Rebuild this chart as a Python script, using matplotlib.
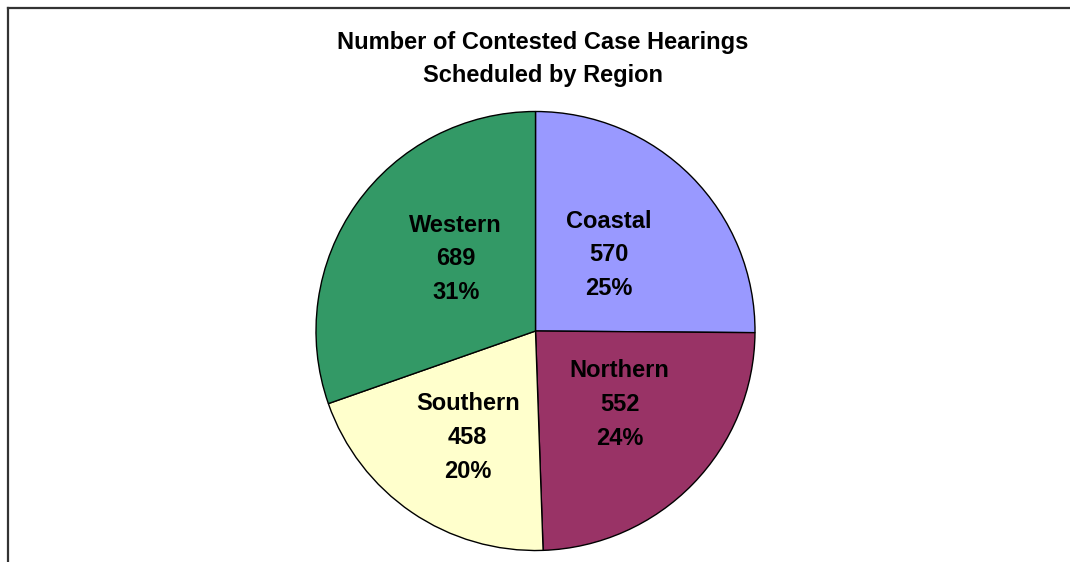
import matplotlib
matplotlib.use("Agg")

import matplotlib.pyplot as plt
import numpy as np
from matplotlib.lines import Line2D

# ============================================================
# Data
# ============================================================

regions = ["Coastal", "Northern", "Southern", "Western"]
hearings = [570, 552, 458, 689]
percents = ["25%", "24%", "20%", "31%"]
colors = ["#9999FF", "#993366", "#FFFFCC", "#339966"]

title_lines = ["Number of Contested Case Hearings", "Scheduled by Region"]

# label placement tweaks (fraction of radius, degrees off the mid angle)
label_dist = [0.482, 0.509, 0.575, 0.490]
label_rot = [1.2, 3.0, 1.9, -6.7]

# ============================================================
# Figure
# ============================================================

W, H, DPI = 1070, 562, 100
plt.rcParams["font.family"] = ["Liberation Sans", "DejaVu Sans"]
FS = 17

fig = plt.figure(figsize=(W / DPI, H / DPI), dpi=DPI)
fig.patch.set_facecolor("white")

# chart frame (top and left edges only visible in the crop)
frame_kw = dict(color="#333333", linewidth=1.6, transform=fig.transFigure)
fig.add_artist(Line2D([7.5 / W, 1.0], [1 - 7.5 / H, 1 - 7.5 / H], **frame_kw))
fig.add_artist(Line2D([7.5 / W, 7.5 / W], [1 - 7.5 / H, 0.0], **frame_kw))

# pie axes: centre (535.5, 331) px, radius 219.5 px
cx, cy, r = 535.5, 331.0, 219.5
ax = fig.add_axes([(cx - r) / W, (H - cy - r) / H, 2 * r / W, 2 * r / H])

wedges, _ = ax.pie(
    hearings,
    colors=colors,
    startangle=90,
    counterclock=False,
    wedgeprops=dict(edgecolor="black", linewidth=1.0),
)
ax.set_xlim(-1, 1)
ax.set_ylim(-1, 1)
ax.set_aspect("equal")
ax.axis("off")

for w, name, n, pct, d, rot in zip(wedges, regions, hearings, percents,
                                   label_dist, label_rot):
    ang = np.deg2rad((w.theta1 + w.theta2) / 2 + rot)
    ax.text(
        d * np.cos(ang),
        d * np.sin(ang),
        f"{name}\n{n}\n{pct}",
        ha="center",
        va="center",
        fontsize=FS,
        fontweight="bold",
        linespacing=1.6,
    )

fig.text(543 / W, 1 - 49 / H, title_lines[0], ha="center", va="baseline",
         fontsize=FS, fontweight="bold")
fig.text(543 / W, 1 - 82 / H, title_lines[1], ha="center", va="baseline",
         fontsize=FS, fontweight="bold")

fig.savefig("out.png", dpi=DPI)
